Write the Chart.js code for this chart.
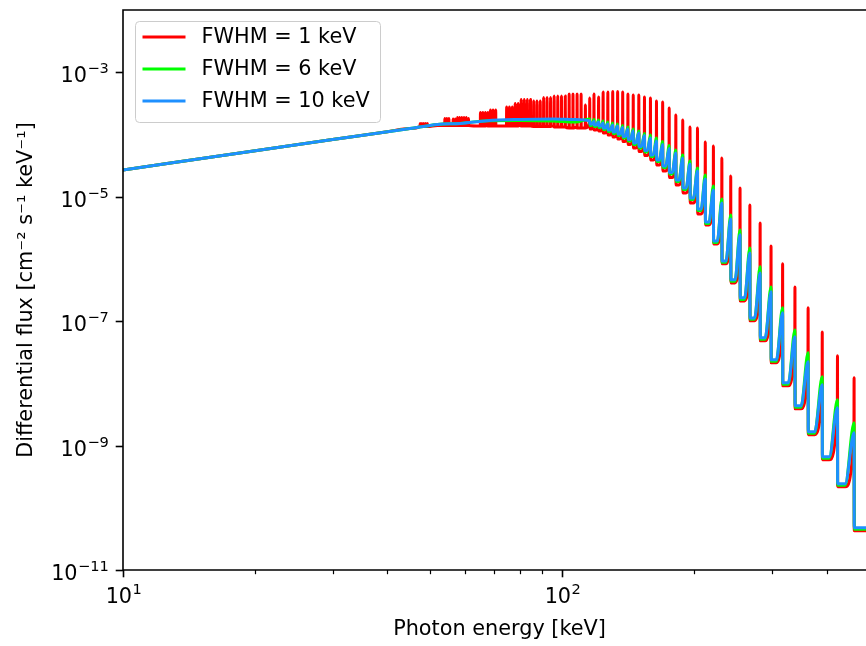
<!DOCTYPE html>
<html>
<head>
<meta charset="utf-8">
<script src="https://cdn.jsdelivr.net/npm/chart.js@4.4.1/dist/chart.umd.min.js"></script>
<style>
  html, body { margin: 0; padding: 0; background: #fff; overflow: hidden; }
  #wrap { position: relative; width: 880px; height: 646px; }
</style>
</head>
<body>
<div id="wrap"><canvas id="spectrum"></canvas></div>
<script>
// --- data (energy in keV, flux stored as log10) ---

// smooth part below the line forest
const contEnergy = [10, 20, 30, 40, 45, 52, 58.6, 67.5, 80.2, 95.4, 107.1];
const blueCont   = [-4.570, -4.263, -4.083, -3.955, -3.904, -3.839, -3.823, -3.778, -3.759, -3.751, -3.759];
const greenCont  = [-4.570, -4.263, -4.083, -3.955, -3.904, -3.839, -3.823, -3.778, -3.775, -3.783, -3.800];
const redCont    = [-4.570, -4.263, -4.083, -3.955, -3.904, -3.855, -3.855, -3.847, -3.847, -3.863, -3.888];

// narrow lines that are only resolved in the FWHM = 1 keV curve
const denseEnergy = [47.48, 47.92, 48.38, 48.85, 49.32, 54.04, 54.62, 55.22,
  56.44, 57.08, 57.73, 58.39, 59.07, 59.76, 60.48, 61.20, 65.13, 65.97, 66.84, 67.73,
  68.65, 69.59, 70.56, 74.71, 75.82, 76.97, 78.15, 79.38, 80.63, 81.94, 83.28, 84.67,
  86.10, 87.59, 89.12, 90.71, 92.36, 94.07, 95.85, 97.69, 99.61, 101.6, 103.7, 105.8,
  108.1, 110.4, 112.9];
const denseTop = [-3.823, -3.823, -3.823, -3.823, -3.823, -3.743, -3.743, -3.743,
  -3.751, -3.751, -3.727, -3.727, -3.727, -3.727, -3.727, -3.743, -3.647, -3.647, -3.647, -3.647,
  -3.606, -3.606, -3.606, -3.558, -3.558, -3.558, -3.502, -3.502, -3.438, -3.438, -3.438, -3.438,
  -3.462, -3.462, -3.462, -3.406, -3.406, -3.406, -3.382, -3.382, -3.382, -3.382, -3.349, -3.349,
  -3.349, -3.349, -3.526];
const denseBase = [-3.871, -3.871, -3.871, -3.871, -3.871, -3.855, -3.855, -3.855,
  -3.855, -3.855, -3.855, -3.855, -3.855, -3.855, -3.855, -3.855, -3.863, -3.863, -3.863, -3.863,
  -3.863, -3.863, -3.863, -3.863, -3.863, -3.863, -3.863, -3.863, -3.863, -3.863, -3.863, -3.863,
  -3.871, -3.871, -3.871, -3.871, -3.871, -3.871, -3.880, -3.880, -3.880, -3.880, -3.896, -3.896,
  -3.896, -3.896, -3.896];

// resolved lines: peak and the trough just after each line
const lineEnergy = [115.5, 118.1, 121.0, 123.9, 127.0, 130.3, 133.7, 137.3, 141.1, 145.1,
  149.4, 153.9, 158.8, 163.9, 169.3, 175.2, 181.4, 188.1, 195.4, 203.2, 211.7, 220.9,
  230.9, 241.9, 254.0, 267.4, 282.2, 298.8, 317.5, 338.7, 362.9, 390.8, 423.3, 461.8];
const redTop = [-3.414, -3.349, -3.398, -3.317, -3.317, -3.309, -3.309, -3.317, -3.349, -3.365,
  -3.365, -3.398, -3.414, -3.462, -3.478, -3.574, -3.687, -3.767, -3.880, -3.896, -4.120, -4.185,
  -4.378, -4.667, -4.859, -5.133, -5.422, -5.791, -6.080, -6.450, -6.787, -7.173, -7.558, -7.912];
const redLow = [-3.912, -3.928, -3.944, -3.976, -4.008, -4.040, -4.072, -4.112, -4.161, -4.217,
  -4.273, -4.337, -4.410, -4.490, -4.586, -4.691, -4.811, -4.940, -5.100, -5.277, -5.454, -5.759,
  -6.080, -6.386, -6.675, -6.996, -7.317, -7.671, -8.040, -8.410, -8.827, -9.229, -9.663, -10.369];
const greenTop = [-3.751, -3.759, -3.767, -3.783, -3.799, -3.815, -3.831, -3.855, -3.880, -3.912,
  -3.944, -3.984, -4.008, -4.056, -4.112, -4.177, -4.249, -4.329, -4.426, -4.538, -4.651, -4.827,
  -5.036, -5.293, -5.534, -5.823, -6.128, -6.450, -6.787, -7.141, -7.510, -7.895, -8.265, -8.634];
const greenLow = [-3.855, -3.871, -3.888, -3.920, -3.952, -3.984, -4.016, -4.056, -4.104, -4.161,
  -4.217, -4.281, -4.353, -4.434, -4.530, -4.635, -4.755, -4.884, -5.044, -5.221, -5.430, -5.735,
  -6.056, -6.361, -6.651, -6.972, -7.293, -7.647, -8.016, -8.386, -8.803, -9.205, -9.638, -10.345];
const blueTop = [-3.783, -3.791, -3.799, -3.815, -3.831, -3.847, -3.863, -3.888, -3.912, -3.944,
  -3.976, -4.016, -4.056, -4.104, -4.161, -4.225, -4.297, -4.378, -4.474, -4.586, -4.715, -4.892,
  -5.100, -5.357, -5.614, -5.904, -6.225, -6.530, -6.867, -7.253, -7.655, -8.024, -8.394, -8.795];
const blueLow = [-3.831, -3.847, -3.863, -3.896, -3.928, -3.960, -3.992, -4.032, -4.080, -4.137,
  -4.193, -4.257, -4.329, -4.410, -4.506, -4.610, -4.731, -4.859, -5.020, -5.197, -5.406, -5.711,
  -6.032, -6.337, -6.626, -6.948, -7.269, -7.622, -7.992, -8.361, -8.779, -9.181, -9.614, -10.321];

const seriesLabels = ['FWHM = 1 keV', 'FWHM = 6 keV', 'FWHM = 10 keV'];
const seriesColors = ['#ff0000', '#00ff00', '#1e90ff'];

const xTicks = [10, 20, 30, 40, 50, 60, 70, 80, 90, 100, 200, 300, 400, 500];
const xLabelled = [10, 100];
const yLabelled = [-11, -9, -7, -5, -3];

const X_MIN = 10, X_MAX = 518;
const EPS = 0.0008;   // half width of a drawn line spike, relative
const KNEE = 0.45;    // where the rise towards the next line starts

const FONT = 'DejaVu Sans';
const FS = 20.8;
const FS_SUP = 14.6;

// --- helpers ---
const pt = (e, lg) => ({ x: e, y: Math.pow(10, lg) });

function buildLines(top, low, pre) {
    const pts = [];
    lineEnergy.forEach((e, i) => {
        if (pre) pts.push(pt(e * (1 - EPS), pre[i]));
        pts.push(pt(e, top[i]));
        pts.push(pt(e * (1 + EPS), low[i]));
        const last = i === lineEnergy.length - 1;
        const kneeE = last ? X_MAX : e + KNEE * (lineEnergy[i + 1] - e);
        pts.push(pt(kneeE, low[i]));
    });
    return pts;
}

const bluePts = contEnergy.map((e, i) => pt(e, blueCont[i])).concat(buildLines(blueTop, blueLow));
const greenPts = contEnergy.map((e, i) => pt(e, greenCont[i])).concat(buildLines(greenTop, greenLow));

const redHead = contEnergy.map((e, i) => pt(e, redCont[i]));
denseEnergy.forEach((e, i) => {
    redHead.push(pt(e * (1 - EPS), denseBase[i]));
    redHead.push(pt(e, denseTop[i]));
    redHead.push(pt(e * (1 + EPS), denseBase[i]));
});
redHead.sort((a, b) => a.x - b.x);
const redPts = redHead.concat(buildLines(redTop, redLow, blueTop));

// "10" with a raised exponent, like a mathtext tick label
function drawPow10(ctx, exp, x, baseline, align) {
    const base = '10';
    const sup = String(exp).replace('-', '\u2212');
    ctx.font = FS + 'px "' + FONT + '"';
    const wb = ctx.measureText(base).width;
    ctx.font = FS_SUP + 'px "' + FONT + '"';
    const ws = ctx.measureText(sup).width;
    const w = wb + ws;
    const left = align === 'right' ? x - w : x - w / 2;
    ctx.textAlign = 'left';
    ctx.textBaseline = 'alphabetic';
    ctx.font = FS + 'px "' + FONT + '"';
    ctx.fillText(base, left, baseline);
    ctx.font = FS_SUP + 'px "' + FONT + '"';
    ctx.fillText(sup, left + wb + 0.5, baseline - 9);
}

// --- frame, tick marks, tick labels and legend drawn like the original axes ---
const axesDecor = {
    id: 'axesDecor',
    afterDraw(chart) {
        const { ctx, chartArea: a, scales: { x, y } } = chart;
        ctx.save();
        ctx.strokeStyle = '#000';
        ctx.lineWidth = 1.6;
        ctx.beginPath();
        ctx.moveTo(a.left, a.bottom);
        ctx.lineTo(a.left, a.top);
        ctx.lineTo(a.right, a.top);
        ctx.lineTo(a.right, a.bottom);
        ctx.closePath();
        ctx.stroke();

        ctx.fillStyle = '#000';
        xTicks.forEach(v => {
            const px = Math.round(x.getPixelForValue(v)) + 0.5;
            const major = xLabelled.includes(v);
            ctx.lineWidth = major ? 1.6 : 1.2;
            ctx.beginPath();
            ctx.moveTo(px, a.bottom);
            ctx.lineTo(px, a.bottom + (major ? 7.3 : 4.2));
            ctx.stroke();
            if (major) drawPow10(ctx, Math.round(Math.log10(v)), px, a.bottom + 33, 'center');
        });
        yLabelled.forEach(d => {
            const py = Math.round(y.getPixelForValue(Math.pow(10, d))) + 0.5;
            ctx.lineWidth = 1.6;
            ctx.beginPath();
            ctx.moveTo(a.left, py);
            ctx.lineTo(a.left - 7.3, py);
            ctx.stroke();
            drawPow10(ctx, d, a.left - 14.6, py + 9, 'right');
        });

        // legend box in the upper left corner
        const bx = a.left + 12.5, by = a.top + 11.5, bw = 245, bh = 101, r = 4;
        ctx.beginPath();
        ctx.moveTo(bx + r, by);
        ctx.arcTo(bx + bw, by, bx + bw, by + bh, r);
        ctx.arcTo(bx + bw, by + bh, bx, by + bh, r);
        ctx.arcTo(bx, by + bh, bx, by, r);
        ctx.arcTo(bx, by, bx + bw, by, r);
        ctx.closePath();
        ctx.fillStyle = 'rgba(255,255,255,0.8)';
        ctx.fill();
        ctx.strokeStyle = '#cccccc';
        ctx.lineWidth = 1;
        ctx.stroke();

        ctx.font = FS + 'px "' + FONT + '"';
        ctx.textBaseline = 'middle';
        ctx.textAlign = 'left';
        chart.data.datasets.forEach((ds, i) => {
            const ly = by + 15.5 + i * 32;
            ctx.strokeStyle = ds.borderColor;
            ctx.lineWidth = 3;
            ctx.beginPath();
            ctx.moveTo(bx + 7, ly);
            ctx.lineTo(bx + 50, ly);
            ctx.stroke();
            ctx.fillStyle = '#000';
            ctx.fillText(ds.label, bx + 66, ly + 1);
        });
        ctx.restore();
    }
};

Chart.defaults.font.family = FONT;
Chart.defaults.font.size = FS;
Chart.defaults.color = '#000';

const makeSet = (i, pts, order) => ({
    label: seriesLabels[i],
    data: pts,
    borderColor: seriesColors[i],
    backgroundColor: seriesColors[i],
    borderWidth: 3,
    pointRadius: 0,
    fill: false,
    cubicInterpolationMode: 'monotone',
    borderJoinStyle: 'round',
    borderCapStyle: 'round',
    order: order
});

new Chart(document.getElementById('spectrum').getContext('2d'), {
    type: 'line',
    data: {
        datasets: [
            makeSet(0, redPts, 3),
            makeSet(1, greenPts, 2),
            makeSet(2, bluePts, 1)
        ]
    },
    options: {
        responsive: true,
        maintainAspectRatio: false,
        animation: false,
        layout: { padding: { top: 10, right: 4, left: 0, bottom: 0 } },
        plugins: { legend: { display: false }, tooltip: { enabled: false } },
        scales: {
            x: {
                type: 'logarithmic',
                min: X_MIN,
                max: X_MAX,
                afterBuildTicks: s => { s.ticks = xTicks.map(v => ({ value: v })); },
                afterFit: s => { s.height = 76; s.paddingLeft = 0; s.paddingRight = 0; },
                grid: { display: false, drawTicks: false },
                border: { display: false },
                ticks: { display: false },
                title: {
                    display: true,
                    text: 'Photon energy [keV]',
                    padding: { top: 0, bottom: 3.5 }
                }
            },
            y: {
                type: 'logarithmic',
                min: 1e-11,
                max: 1e-2,
                afterBuildTicks: s => { s.ticks = yLabelled.map(d => ({ value: Math.pow(10, d) })); },
                afterFit: s => { s.width = 123; s.paddingTop = 0; s.paddingBottom = 0; },
                grid: { display: false, drawTicks: false },
                border: { display: false },
                ticks: { display: false },
                title: {
                    display: true,
                    text: 'Differential flux [cm\u207b\u00b2 s\u207b\u00b9 keV\u207b\u00b9]',
                    padding: { top: 14.5, bottom: 0 }
                }
            }
        }
    },
    plugins: [axesDecor]
});
</script>
</body>
</html>
